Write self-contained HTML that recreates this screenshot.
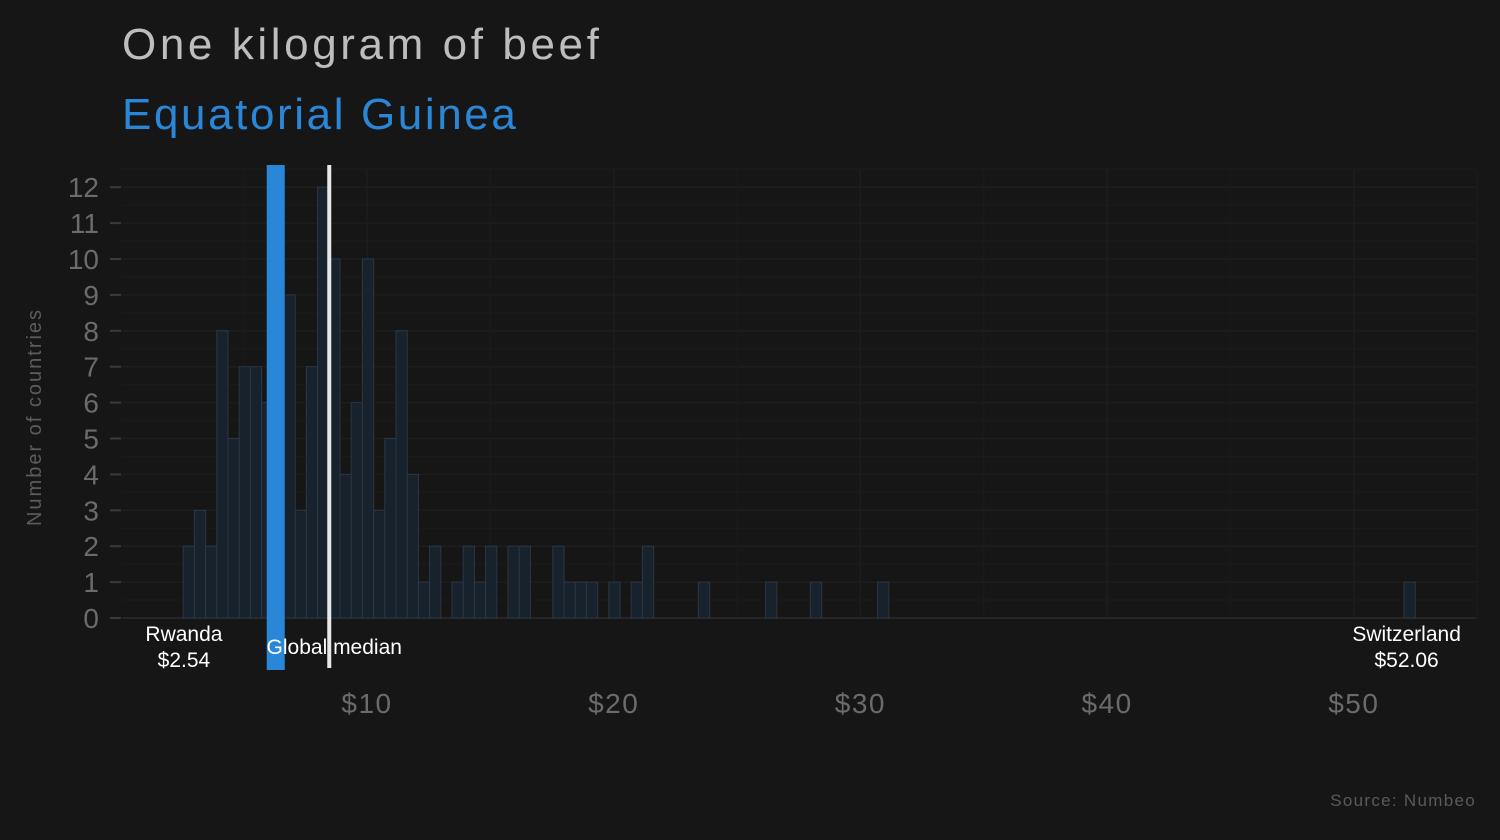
<!DOCTYPE html>
<html><head><meta charset="utf-8"><style>
html,body{margin:0;padding:0;background:#161616;}
svg{display:block;font-family:"Liberation Sans","DejaVu Sans",sans-serif;}
</style></head><body>
<svg id="chart" width="1500" height="840" viewBox="0 0 1500 840">
<rect width="1500" height="840" fill="#161616"/>
<text x="122" y="59" font-size="44" letter-spacing="3.6" fill="#bdbdbd">One kilogram of beef</text>
<text x="122" y="129" font-size="44" letter-spacing="2.6" fill="#2a87d8">Equatorial Guinea</text>
<text transform="translate(41,417) rotate(-90)" text-anchor="middle" font-size="20" letter-spacing="2" fill="#5c5c5c">Number of countries</text>
<text x="1476" y="806" text-anchor="end" font-size="17" letter-spacing="1.3" fill="#5a5a5a">Source: Numbeo</text>
<g id="grid"></g><g id="bars"></g><g id="axes"></g><g id="ann"></g>
</svg>
<script>
const binStart = 2.55;
const binWidth = 0.454;
const counts = [2,3,2,8,5,7,7,6,0,9,3,7,12,10,4,6,10,3,5,8,4,1,2,0,1,2,1,2,0,2,2,0,0,2,1,1,1,0,1,0,1,2,0,0,0,0,1,0,0,0,0,0,1,0,0,0,1,0,0,0,0,0,1,0,0,0,0,0,0,0,0,0,0,0,0,0,0,0,0,0,0,0,0,0,0,0,0,0,0,0,0,0,0,0,0,0,0,0,0,0,0,0,0,0,0,0,0,0,0,1];
const yTicks = [0,1,2,3,4,5,6,7,8,9,10,11,12];
const xTicks = [10,20,30,40,50];
const xTickLabels = ["$10","$20","$30","$40","$50"];
const highlightValue = 6.3;
const medianValue = 8.47;
const minValue = 2.54, maxValue = 52.06;

const NS="http://www.w3.org/2000/svg";
const X = v => 120.3 + v*24.67;
const Y = v => 618 - v*35.9;
function mk(parent,tag,attrs){const e=document.createElementNS(NS,tag);for(const k in attrs)e.setAttribute(k,attrs[k]);document.getElementById(parent).appendChild(e);return e;}

for(let v=0; v<=12.5; v+=0.5){
  const g=mk('grid','line',{x1:122,x2:1476,y1:Y(v),y2:Y(v),stroke:v%1===0?'#1d1d1d':'#1a1a1a','stroke-width':1.5});
  
  
}
for(let v=5; v<=55; v+=5){
  const g=mk('grid','line',{x1:X(v),x2:X(v),y1:170,y2:618,stroke:v%10===0?'#1d1d1d':'#1a1a1a','stroke-width':1.5});
  
  
}
mk('grid','line',{x1:122,x2:1476,y1:618,y2:618,stroke:'#2a2a2a','stroke-width':1.5});

counts.forEach((c,i)=>{
  if(!c) return;
  const x0=X(binStart+i*binWidth), x1=X(binStart+(i+1)*binWidth);
  const r=mk('bars','rect',{x:x0,y:Y(c),width:x1-x0,height:Y(0)-Y(c),fill:'#17222d',stroke:'#2c3744','stroke-width':1});
  
  
});

yTicks.forEach(t=>{
  const tx=mk('axes','text',{x:99,y:Y(t)+10,'text-anchor':'end','font-size':28,fill:'#6b6b6b'});
  tx.textContent=t;
  
  
  mk('axes','line',{x1:110,x2:121,y1:Y(t),y2:Y(t),stroke:'#3a3a3a','stroke-width':2});
});
xTicks.forEach((t,i)=>{
  const tx=mk('axes','text',{x:X(t),y:713,'text-anchor':'middle','font-size':28,'letter-spacing':1.5,fill:'#6b6b6b'});
  tx.textContent=xTickLabels[i];
  
  
});

const hl=mk('ann','rect',{x:X(highlightValue)-9,y:165,width:18,height:505,fill:'#2a87d8'});


const md=mk('ann','rect',{x:X(medianValue)-2,y:165,width:4,height:503,fill:'#e8e8e8'});


function lab(x,y,t,name){const e=mk('ann','text',{x:x,y:y,'text-anchor':'middle','font-size':21,fill:'#ffffff'});e.textContent=t;}
lab(X(minValue)+1,641,'Rwanda','min-country-label');
lab(X(minValue)+1,667,'$'+minValue.toFixed(2),'min-value-label');
lab(X(medianValue)+5,654,'Global median','median-label');
lab(X(maxValue)+2,641,'Switzerland','max-country-label');
lab(X(maxValue)+2,667,'$'+maxValue.toFixed(2),'max-value-label');
</script>
</body></html>
